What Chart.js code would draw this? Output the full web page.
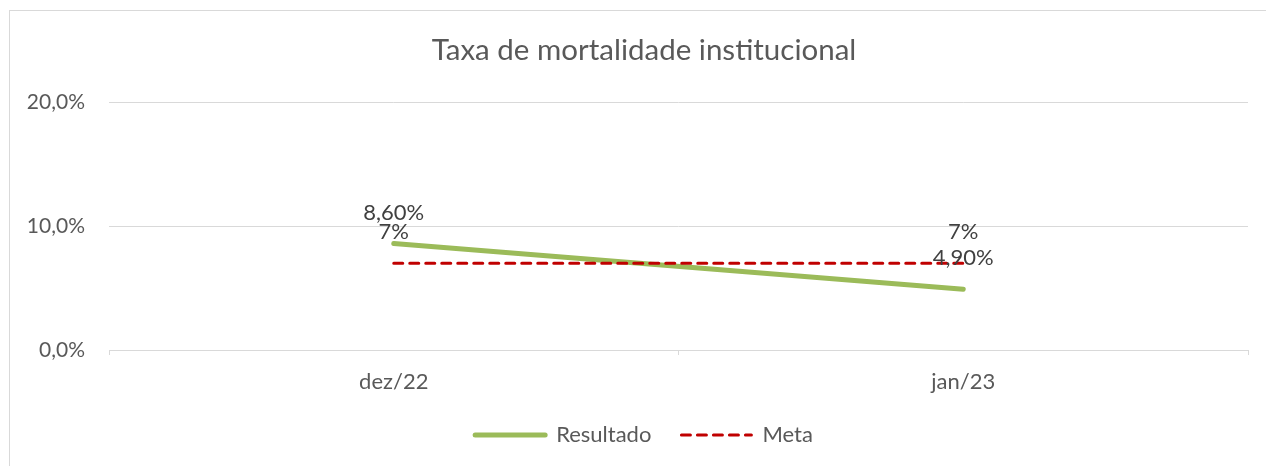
<!DOCTYPE html>
<html>
    <head>
        <title>Taxa de mortalidade institucional</title>
        <script src="https://cdn.jsdelivr.net/npm/chart.js@4.4.0/dist/chart.umd.min.js"></script>
        <style>
            html, body { margin: 0; padding: 0; background: #fff; overflow: hidden; }
            #frame { position: absolute; left: 9px; top: 10px; width: 1400px; height: 600px; border: 1px solid #d9d9d9; }
            #wrap { position: absolute; left: 0; top: 0; width: 1266px; height: 466px; overflow: hidden; }
        </style>
    </head>
    <body>
        <div id="frame"></div>
        <div id="wrap">
            <canvas id="chart" width="1288" height="466"></canvas>
        </div>
        <script>
        const meses = ['dez/22', 'jan/23'];
        const resultado = [8.6, 4.9];
        const meta = [7, 7];
        const casasResultado = 2;
        const casasMeta = 0;

        const fonte = 'Lato, "Noto Sans", sans-serif';

        function pct(v, casas) {
            return v.toFixed(casas).replace('.', ',') + '%';
        }

        // rótulos de dados acima de cada ponto, como no Excel
        const rotulos = {
            id: 'rotulos',
            afterDatasetsDraw(chart) {
                const ctx = chart.ctx;
                ctx.save();
                ctx.font = '22px ' + fonte;
                ctx.fillStyle = '#404040';
                ctx.textAlign = 'center';
                ctx.textBaseline = 'middle';
                chart.data.datasets.forEach((ds, i) => {
                    const m = chart.getDatasetMeta(i);
                    m.data.forEach((pt, j) => {
                        ctx.fillText(pct(ds.data[j], ds.casas), pt.x, pt.y - 31);
                    });
                });
                ctx.restore();
            }
        };

        new Chart(document.getElementById('chart').getContext('2d'), {
            type: 'line',
            data: {
                labels: meses,
                datasets: [{
                    label: 'Resultado',
                    data: resultado,
                    casas: casasResultado,
                    borderColor: '#9bbb59',
                    backgroundColor: '#9bbb59',
                    borderWidth: 5,
                    borderCapStyle: 'round',
                    pointRadius: 0,
                    order: 1
                }, {
                    label: 'Meta',
                    data: meta,
                    casas: casasMeta,
                    borderColor: '#c00000',
                    backgroundColor: '#c00000',
                    borderWidth: 3,
                    borderDash: [9, 7],
                    borderCapStyle: 'round',
                    pointRadius: 0,
                    order: 0
                }]
            },
            options: {
                responsive: false,
                maintainAspectRatio: false,
                animation: false,
                layout: { padding: { left: 0, right: 0, top: 0, bottom: 10 } },
                plugins: {
                    title: {
                        display: true,
                        text: 'Taxa de mortalidade institucional',
                        color: '#595959',
                        font: { family: fonte, size: 29.5, weight: 'normal' },
                        padding: { top: 33, bottom: 34 }
                    },
                    legend: {
                        position: 'bottom',
                        labels: {
                            usePointStyle: true,
                            pointStyle: 'line',
                            pointStyleWidth: 70,
                            boxHeight: 22,
                            color: '#595959',
                            font: { family: fonte, size: 22 },
                            padding: 30,
                            sort: (a, b) => a.datasetIndex - b.datasetIndex,
                            // o estilo de ponto não traz o tracejado da série
                            generateLabels: chart => Chart.defaults.plugins.legend.labels.generateLabels(chart).map(item => {
                                const ds = chart.data.datasets[item.datasetIndex];
                                item.lineDash = ds.borderDash || [];
                                item.lineWidth = ds.borderWidth;
                                item.lineCap = 'round';
                                return item;
                            })
                        }
                    },
                    tooltip: { enabled: false }
                },
                scales: {
                    x: {
                        offset: true,
                        grid: { offset: true, drawOnChartArea: false, drawTicks: true, tickLength: 5, color: '#d9d9d9' },
                        border: { color: '#d9d9d9' },
                        ticks: { color: '#595959', font: { family: fonte, size: 22 }, padding: 14 },
                        afterFit: s => { s.height = 44; }
                    },
                    y: {
                        min: 0,
                        max: 20,
                        ticks: {
                            stepSize: 10,
                            color: '#595959',
                            font: { family: fonte, size: 21 },
                            padding: 24,
                            callback: v => pct(v, 1)
                        },
                        grid: { color: '#d9d9d9', drawTicks: false },
                        border: { display: false },
                        afterFit: s => { s.width = 109; }
                    },
                    // margem direita vazia da área de plotagem
                    margem: {
                        position: 'right',
                        grid: { display: false },
                        border: { display: false },
                        ticks: { display: false },
                        afterFit: s => { s.width = 40; }
                    }
                }
            },
            plugins: [rotulos]
        });
        </script>
    </body>
</html>
